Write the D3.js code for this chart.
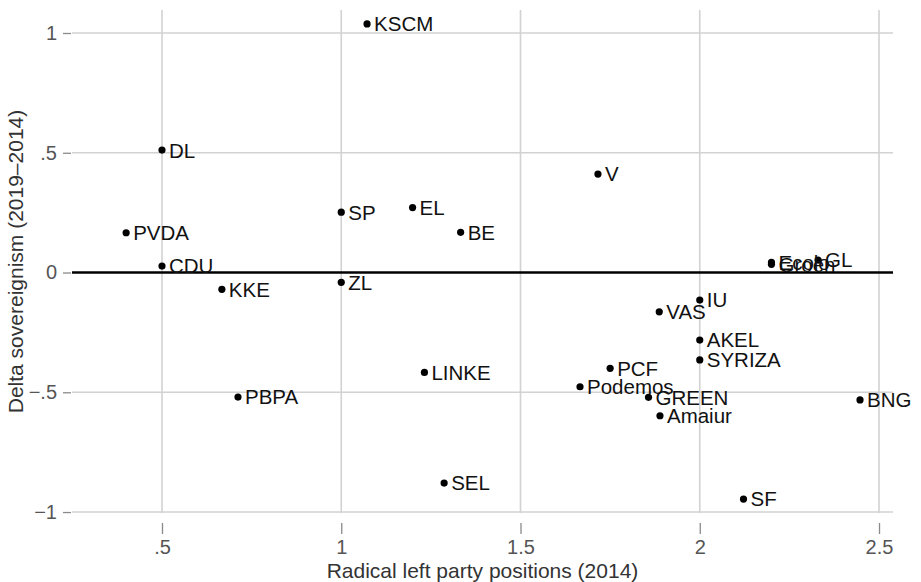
<!DOCTYPE html>
<html>
<head>
<meta charset="utf-8">
<script src="https://cdn.jsdelivr.net/npm/d3@7"></script>
<style>
  body { margin: 0; background: #fff; }
  text { font-family: "Liberation Sans", Arial, sans-serif; }
</style>
</head>
<body>
<div id="chart"></div>
<script>
// party labels and their values
var parties = ["KSCM", "DL", "PVDA", "CDU", "KKE", "SP", "EL", "BE", "ZL", "LINKE", "PBPA", "SEL",
  "V", "PCF", "Podemos", "VAS", "GREEN", "Amaiur", "IU", "AKEL", "SYRIZA", "SF", "Ecolo", "Groen", "GL", "BNG"];
var leftPosition = [1.072, 0.5, 0.40, 0.5, 0.667, 1.0, 1.199, 1.333, 1.0, 1.232, 0.712, 1.287,
  1.716, 1.750, 1.666, 1.887, 1.857, 1.889, 2.0, 2.0, 2.0, 2.122, 2.200, 2.200, 2.330, 2.447];
var deltaSov = [1.038, 0.511, 0.166, 0.027, -0.070, 0.252, 0.271, 0.168, -0.041, -0.417, -0.520, -0.879,
  0.411, -0.400, -0.477, -0.164, -0.521, -0.598, -0.115, -0.282, -0.365, -0.946, 0.042, 0.034, 0.052, -0.532];

var xTicks = [0.5, 1, 1.5, 2, 2.5];
var xTickLabels = [".5", "1", "1.5", "2", "2.5"];
var yTicks = [-1, -0.5, 0, 0.5, 1];
var yTickLabels = ["\u22121", "\u2212.5", "0", ".5", "1"];

var svgWidth = 921;
var svgHeight = 582;

var svg = d3.select("#chart")
  .append("svg")
  .attr("width", svgWidth)
  .attr("height", svgHeight);

// plot region
var plotLeft = 72, plotRight = 893, plotTop = 10, plotBottom = 513;

var xScale = d3.scaleLinear()
  .domain([0.249, 2.539])
  .range([plotLeft, plotRight]);

var yScale = d3.scaleLinear()
  .domain([-1.004, 1.096])
  .range([plotBottom, plotTop]);

// gridlines
svg.append("g")
  .selectAll("line")
  .data(xTicks)
  .enter()
  .append("line")
  .attr("x1", d => xScale(d))
  .attr("x2", d => xScale(d))
  .attr("y1", plotTop)
  .attr("y2", plotBottom)
  .attr("stroke", "#d2d2d2")
  .attr("stroke-width", 1.6);

svg.append("g")
  .selectAll("line")
  .data(yTicks.filter(d => d !== 0))
  .enter()
  .append("line")
  .attr("x1", plotLeft)
  .attr("x2", plotRight)
  .attr("y1", d => yScale(d))
  .attr("y2", d => yScale(d))
  .attr("stroke", "#d2d2d2")
  .attr("stroke-width", 1.6);

// axes
var bottomAxis = d3.axisBottom(xScale)
  .tickValues(xTicks)
  .tickSize(11)
  .tickPadding(6)
  .tickFormat((d, i) => xTickLabels[i]);

var leftAxis = d3.axisLeft(yScale)
  .tickValues(yTicks)
  .tickSize(8)
  .tickPadding(6)
  .tickFormat((d, i) => yTickLabels[i]);

var gx = svg.append("g")
  .attr("transform", `translate(0, 523)`)
  .call(bottomAxis);

var gy = svg.append("g")
  .attr("transform", `translate(71, 0)`)
  .call(leftAxis);

[gx, gy].forEach(g => {
  g.select(".domain").remove();
  g.selectAll(".tick line").attr("stroke", "#8a8a8a").attr("stroke-width", 1.3);
  g.selectAll(".tick text")
    .attr("fill", "#555")
    .style("font-size", "20px")
    .style("font-family", "'Liberation Sans', Arial, sans-serif");
});

// zero reference line
svg.append("line")
  .attr("x1", plotLeft)
  .attr("x2", plotRight)
  .attr("y1", yScale(0))
  .attr("y2", yScale(0))
  .attr("stroke", "#000")
  .attr("stroke-width", 2.6);

// points
svg.append("g")
  .selectAll("circle")
  .data(parties)
  .enter()
  .append("circle")
  .attr("cx", (d, i) => xScale(leftPosition[i]))
  .attr("cy", (d, i) => yScale(deltaSov[i]))
  .attr("r", 3.6)
  .attr("fill", "#000");

// labels
svg.append("g")
  .selectAll("text")
  .data(parties)
  .enter()
  .append("text")
  .attr("x", (d, i) => xScale(leftPosition[i]) + 7)
  .attr("y", (d, i) => yScale(deltaSov[i]))
  .attr("dy", "0.36em")
  .style("font-size", "20.5px")
  .attr("fill", "#111")
  .text(d => d);

// axis titles
svg.append("text")
  .attr("x", (plotLeft + plotRight) / 2)
  .attr("y", 578)
  .attr("text-anchor", "middle")
  .style("font-size", "21px")
  .attr("fill", "#333")
  .text("Radical left party positions (2014)");

svg.append("text")
  .attr("transform", `translate(23, ${(plotTop + plotBottom) / 2}) rotate(-90)`)
  .attr("text-anchor", "middle")
  .style("font-size", "21px")
  .attr("fill", "#333")
  .text("Delta sovereignism (2019\u20132014)");
</script>
</body>
</html>
